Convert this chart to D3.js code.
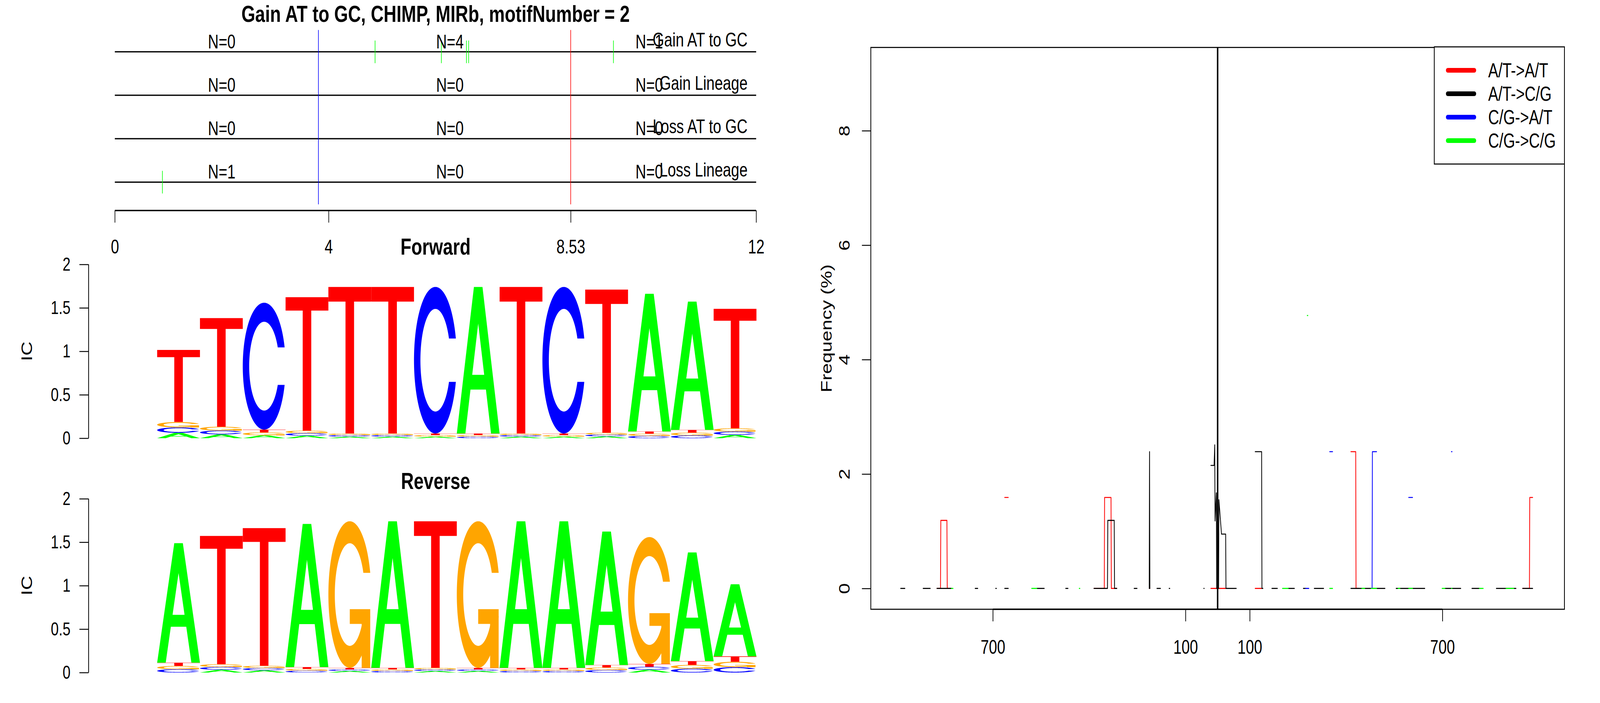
<!DOCTYPE html>
<html>
<head>
<meta charset="utf-8">
<script src="https://cdn.jsdelivr.net/npm/d3@7"></script>
<style>
  html, body { margin: 0; padding: 0; background: #fff; overflow: hidden; }
  #chart svg { display: block; width: 100vw; height: 100vh; }
  text { font-family: 'Liberation Sans', Arial, Helvetica, sans-serif; }
</style>
</head>
<body>
<div id="chart"></div>
<script>
// ---- data ----
const mainTitle = "Gain AT to GC, CHIMP, MIRb, motifNumber = 2";
const trackNames = ["Gain AT to GC", "Gain Lineage", "Loss AT to GC", "Loss Lineage"];
const trackEvents = [[4.87, 6.11, 6.58, 6.62, 9.33], [], [], [0.89]];
const segmentBreaks = [0, 3.81, 8.53, 12];
const countLabelX = [2, 6.27, 10];
const topTicks = [0, 4, 8.53, 12];
const markerPos = [3.81, 8.53];

// sequence logo, forward strand (information content per letter)
const bases = ["A", "C", "G", "T"];
const fwdA = [0.062, 0.044, 0.033, 0.029, 0.018, 0.018, 0.018, 1.687, 0.018, 0.018, 0.021, 1.584, 1.476, 0.038];
const fwdC = [0.062, 0.044, 1.460, 0.029, 0.018, 0.018, 1.687, 0.018, 0.018, 1.687, 0.021, 0.026, 0.032, 0.038];
const fwdG = [0.062, 0.044, 0.033, 0.029, 0.018, 0.018, 0.018, 0.018, 0.018, 0.018, 0.021, 0.026, 0.032, 0.038];
const fwdT = [0.830, 1.250, 0.033, 1.535, 1.687, 1.687, 0.018, 0.018, 1.687, 0.018, 1.647, 0.026, 0.032, 1.375];
const icTicks = [0, 0.5, 1, 1.5, 2];

// substitution frequency around the motif, [distance, freq %], null = gap
const seriesNames = ["A/T->A/T", "A/T->C/G", "C/G->A/T", "C/G->C/G"];
const atToAt = [
  [-874, 0], [-863, 0], [-862, 1.19], [-843, 1.19], [-842, 0], [-829, 0], null,
  [-663, 1.59], [-652, 1.59], null,
  [-385, 0], [-353, 0], [-352, 1.59], [-332, 1.59], [-331, 0], [-314, 0], null,
  [-213, 0], [-211, 0], null,
  [-21, 0], [25, 0], null,
  [117, 0], [137, 0], null,
  [415, 2.39], [430, 2.39], [431, 0], [440, 0], null,
  [950, 0], [971, 0], [972, 1.59], [981, 1.59]
];
const atToCg = [
  [-987, 0], [-974, 0], null,
  [-917, 0], [-895, 0], null,
  [-874, 0], [-829, 0], null,
  [-755, 0], [-747, 0], null,
  [-691, 0], [-689, 0], null,
  [-663, 0], [-652, 0], null,
  [-563, 0], [-540, 0], null,
  [-473, 0], [-466, 0], null,
  [-385, 0], [-343, 0], [-342, 1.19], [-322, 1.19], [-321, 0], [-314, 0], null,
  [-260, 0], [-251, 0], null,
  [-213, 0], [-212, 2.39], [-211, 0], null,
  [-189, 0], [-178, 0], null,
  [-151, 0], [-149, 0], null,
  [-43, 0], [-42, 0], null,
  [-21, 2.15], [-11, 2.15], [-9, 2.51], [-8, 1.18], [-4, 1.67], [-3, 0], [3, 0], [4, 1.55], [12, 0.95], [25, 0.95], [26, 0], [58, 0], null,
  [117, 2.39], [137, 2.39], [138, 0], [141, 0], null,
  [169, 0], [186, 0], null,
  [220, 0], [239, 0], null,
  [267, 0], [274, 0], null,
  [301, 0], [330, 0], null,
  [415, 0], [521, 0], null,
  [556, 0], [645, 0], null,
  [708, 0], [757, 0], null,
  [792, 0], [815, 0], null,
  [868, 0], [929, 0], null,
  [950, 0], [981, 0]
];
const cgToAt = [
  [274, 0], [284, 0], null,
  [349, 2.39], [358, 2.39], null,
  [478, 0], [481, 0], [482, 2.39], [495, 2.39], null,
  [595, 1.59], [607, 1.59], null,
  [728, 2.39], [730, 2.39]
];
const cgToCg = [
  [-829, 0], [-824, 0], null,
  [-579, 0], [-563, 0], null,
  [-431, 0], [-429, 0], null,
  [202, 0], [220, 0], null,
  [279, 4.77], [281, 4.77], null,
  [349, 0], [358, 0], null,
  [449, 0], [458, 0], null,
  [478, 0], [495, 0], null,
  [562, 0], [568, 0], null,
  [595, 0], [607, 0], null,
  [699, 0], [708, 0], null,
  [728, 0], [730, 0], null,
  [815, 0], [827, 0], null,
  [898, 0], [922, 0]
];
const distTicks = [-700, -100, 100, 700];
const freqTicks = [0, 2, 4, 6, 8];

// ---- drawing ----
// the drawing is laid out on a 5400x1800 grid and stretched to the window
const svg = d3.select("#chart").append("svg")
  .attr("viewBox", "0 0 5400 1800")
  .attr("preserveAspectRatio", "none")
  .style("background", "#fff");

const seriesColor = ["#FF0000", "#000000", "#0000FF", "#00FF00"];
const baseColor = { A: "#00FF00", C: "#0000FF", G: "#FFA500", T: "#FF0000" };
const FONT = "'Liberation Sans', Arial, sans-serif";

// top panel: events along the motif
const xTop = d3.scaleLinear().domain([0, 12]).range([387.5, 2552]);
const yTrack = d3.scalePoint().domain(trackNames).range([132.7, 466.4]);

svg.append("text")
  .attr("x", 1470).attr("y", 56)
  .attr("text-anchor", "middle")
  .style("font-size", "60px").style("font-weight", "bold")
  .text(mainTitle);

trackNames.forEach((name, i) => {
  const y = yTrack(name);
  svg.append("line")
    .attr("x1", xTop(0)).attr("x2", xTop(12))
    .attr("y1", y).attr("y2", y)
    .attr("stroke", "#000").attr("stroke-width", 3.3);

  svg.selectAll(null)
    .data(trackEvents[i])
    .enter().append("line")
    .attr("x1", d => xTop(d)).attr("x2", d => xTop(d))
    .attr("y1", y - 29).attr("y2", y + 29)
    .attr("stroke", "#00FF00").attr("stroke-width", 2);

  countLabelX.forEach((cx, k) => {
    const n = trackEvents[i].filter(e => e >= segmentBreaks[k] && e < segmentBreaks[k + 1]).length;
    svg.append("text")
      .attr("x", xTop(cx)).attr("y", y - 9)
      .attr("text-anchor", "middle")
      .style("font-size", "50px")
      .text("N=" + n);
  });

  svg.append("text")
    .attr("x", 2523).attr("y", y - 14)
    .attr("text-anchor", "end")
    .style("font-size", "50px")
    .text(name);
});

svg.selectAll(null)
  .data(markerPos)
  .enter().append("line")
  .attr("x1", d => xTop(d)).attr("x2", d => xTop(d))
  .attr("y1", 76.7).attr("y2", 523.2)
  .attr("stroke", (d, i) => i === 0 ? "#0000FF" : "#FF0000")
  .attr("stroke-width", 2);

const topAxis = svg.append("g").attr("transform", "translate(0,539)");
topAxis.call(d3.axisBottom(xTop).tickValues(topTicks).tickSize(31).tickPadding(44)
  .tickFormat(d => d === 8.53 ? "8.53" : d3.format("d")(d)));
topAxis.select(".domain").attr("stroke-width", 3.3).attr("d", `M${xTop(0)},0H${xTop(12)}`);
topAxis.selectAll(".tick line").attr("stroke-width", 2.2);
topAxis.selectAll(".tick text").style("font-size", "50px").style("font-family", FONT);

// letter shapes in a unit box (y upward)
function cShape() {
  const n = 100;
  const lin = (a, b) => d3.range(n).map(i => a + (b - a) * i / (n - 1));
  const ang1 = lin(0.3 + Math.PI / 2, Math.PI), ang2 = lin(Math.PI, 1.5 * Math.PI);
  const arc = (r, angs) => angs.map(a => [0.5 + r * Math.sin(a), 0.5 + r * Math.cos(a)]);
  const outer = arc(0.5, ang1).concat(arc(0.5, ang2));
  const topY = d3.max(arc(0.5, ang1), p => p[1]);
  const inner1 = arc(0.35, ang1).filter(p => p[1] <= topY);
  inner1[0] = [inner1[0][0], topY];
  const inner = inner1.concat(arc(0.35, ang2));
  const mirror = pts => pts.concat(pts.slice().reverse().map(p => [p[0], 1 - p[1]]));
  return mirror(outer).concat(mirror(inner).reverse());
}
const ring = cShape();
const r1 = 0.5 + 0.5 * Math.cos(0.3);
const letterShapes = {
  A: [
    { pts: [[0, 0], [0.4, 1], [0.6, 1], [1, 0], [0.8, 0], [0.68, 0.3], [0.32, 0.3], [0.2, 0]], hole: false },
    { pts: [[0.36, 0.4], [0.5, 0.75], [0.64, 0.4]], hole: true }
  ],
  C: [{ pts: ring, hole: false }],
  G: [
    { pts: ring, hole: false },
    { pts: [[r1, 0.4], [0.5, 0.4], [0.5, 0.3], [r1 - 0.2, 0.3], [r1 - 0.2, 0], [r1, 0]], hole: false }
  ],
  T: [{ pts: [[0, 1], [1, 1], [1, 0.9], [0.6, 0.9], [0.6, 0], [0.4, 0], [0.4, 0.9], [0, 0.9]], hole: false }]
};

function drawLogo(columns, y0, label) {
  const xCol = d3.scaleBand().domain(d3.range(columns.length)).range([530.4, 2553]);
  const y = d3.scaleLinear().domain([0, 2]).range([y0, y0 - 445]);
  const g = svg.append("g");

  svg.append("text")
    .attr("x", 1470).attr("y", y0 - 470)
    .attr("text-anchor", "middle")
    .style("font-size", "60px").style("font-weight", "bold")
    .text(label);

  columns.forEach((col, j) => {
    const stack = bases.map(b => ({ b, h: col[b] })).sort((p, q) => p.h - q.h);
    let base = 0;
    stack.forEach(s => {
      letterShapes[s.b].forEach(poly => {
        const path = poly.pts.map(p => [xCol(j) + xCol.bandwidth() * p[0], y(base + s.h * p[1])]);
        g.append("path")
          .attr("d", "M" + path.map(p => p.join(",")).join("L") + "Z")
          .attr("fill", poly.hole ? "#fff" : baseColor[s.b]);
      });
      base += s.h;
    });
  });

  const ax = svg.append("g").attr("transform", "translate(299,0)");
  ax.call(d3.axisLeft(y).tickValues(icTicks).tickSize(31).tickPadding(30).tickFormat(d3.format("")));
  ax.select(".domain").attr("stroke-width", 2.6).attr("d", `M0,${y(0)}V${y(2)}`);
  ax.selectAll(".tick line").attr("stroke-width", 2.4);
  ax.selectAll(".tick text").style("font-size", "48px").style("font-family", FONT);

  svg.append("text")
    .attr("transform", `translate(108,${(y(0) + y(2)) / 2}) rotate(-90)`)
    .attr("text-anchor", "middle")
    .style("font-size", "50px")
    .text("IC");
}

const complement = { A: "T", C: "G", G: "C", T: "A" };
const fwdCols = fwdA.map((_, j) => ({ A: fwdA[j], C: fwdC[j], G: fwdG[j], T: fwdT[j] }));
const revCols = fwdCols.slice().reverse().map(col => {
  const out = {};
  bases.forEach(b => { out[complement[b]] = col[b]; });
  return out;
});
drawLogo(fwdCols, 1122, "Forward");
drawLogo(revCols, 1722, "Reverse");

// right panel: frequency around the motif
const plot = { left: 2939, right: 5280, top: 121.5, bottom: 1560 };
const xDist = d3.scaleLinear().domain([-1080, 1080]).range([plot.left, plot.right]);
const yFreq = d3.scaleLinear().domain([-0.364, 9.455]).range([plot.bottom, plot.top]);

const freqLine = d3.line()
  .defined(d => d !== null)
  .x(d => xDist(d[0]))
  .y(d => yFreq(d[1]));

[atToAt, atToCg, cgToAt, cgToCg].forEach((s, i) => {
  svg.append("path")
    .datum(s)
    .attr("d", freqLine)
    .attr("fill", "none")
    .attr("stroke", seriesColor[i])
    .attr("stroke-width", 2.6)
    .attr("stroke-linecap", "round")
    .attr("stroke-linejoin", "round");
});

svg.append("line")
  .attr("x1", xDist(0)).attr("x2", xDist(0))
  .attr("y1", plot.top).attr("y2", plot.bottom)
  .attr("stroke", "#000").attr("stroke-width", 5);

svg.append("rect")
  .attr("x", plot.left).attr("y", plot.top)
  .attr("width", plot.right - plot.left).attr("height", plot.bottom - plot.top)
  .attr("fill", "none").attr("stroke", "#000").attr("stroke-width", 2.7);

const xAx = svg.append("g").attr("transform", `translate(0,${plot.bottom})`);
xAx.call(d3.axisBottom(xDist).tickValues(distTicks).tickSize(31).tickPadding(48).tickFormat(d => Math.abs(d)));
xAx.select(".domain").attr("stroke-width", 3.6).attr("d", `M${xDist(-700)},0H${xDist(700)}`);
xAx.selectAll(".tick line").attr("stroke-width", 2.4);
xAx.selectAll(".tick text").style("font-size", "50px").style("font-family", FONT);

const yAx = svg.append("g").attr("transform", `translate(${plot.left},0)`);
yAx.call(d3.axisLeft(yFreq).tickValues(freqTicks).tickSize(30).tickFormat(d3.format("d")));
yAx.select(".domain").remove();
yAx.selectAll(".tick line").attr("stroke-width", 2.4);
yAx.selectAll(".tick text")
  .attr("x", null).attr("dy", null)
  .attr("text-anchor", "middle")
  .attr("transform", "translate(-71,0) rotate(-90)")
  .style("font-size", "50px").style("font-family", FONT);

svg.append("text")
  .attr("transform", `translate(2807,${(plot.top + plot.bottom) / 2}) rotate(-90)`)
  .attr("text-anchor", "middle")
  .style("font-size", "50px")
  .text("Frequency (%)");

// legend
const legend = svg.append("g");
legend.append("rect")
  .attr("x", 4840.7).attr("y", 120)
  .attr("width", plot.right - 4840.7).attr("height", 300)
  .attr("fill", "#fff").attr("stroke", "#000").attr("stroke-width", 2.7);
seriesNames.forEach((name, i) => {
  const ly = 180 + i * 60;
  legend.append("line")
    .attr("x1", 4886).attr("x2", 4976).attr("y1", ly).attr("y2", ly)
    .attr("stroke", seriesColor[i]).attr("stroke-width", 12).attr("stroke-linecap", "round");
  legend.append("text")
    .attr("x", 5022.7).attr("y", ly + 18.3)
    .style("font-size", "51px")
    .text(name);
});
</script>
</body>
</html>
